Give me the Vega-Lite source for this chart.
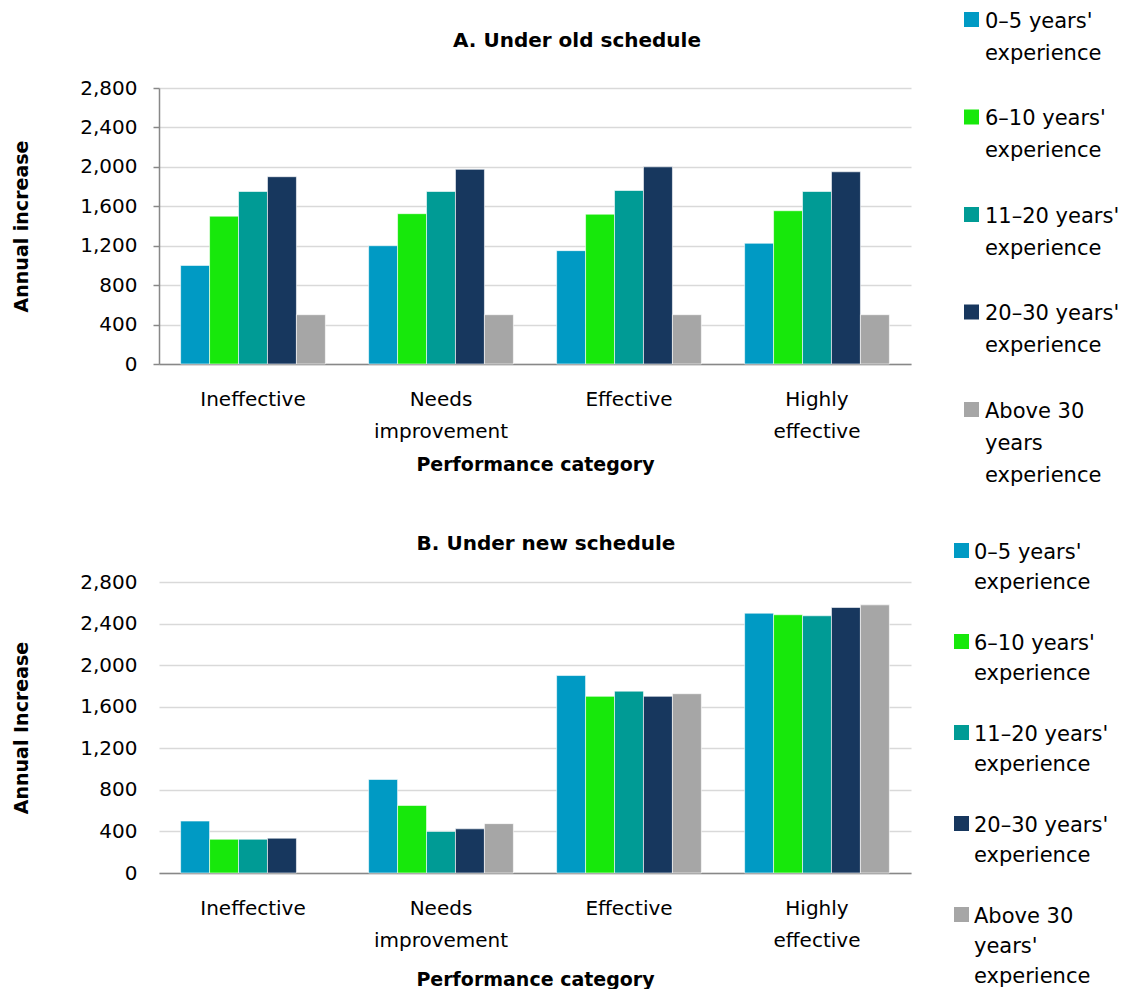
{
  "$schema": "https://vega.github.io/schema/vega-lite/v6.json",
  "background": "white",
  "padding": {"left": 12, "top": 0, "right": 0, "bottom": 0},
  "spacing": 45,
  "config": {
    "font": "DejaVu Sans",
    "view": {"stroke": null},
    "axis": {"labelColor": "#000000", "titleColor": "#000000", "labelFontSize": 20, "titleFontSize": 19, "titleFontWeight": "bold", "gridColor": "#d9d9d9", "gridWidth": 1.5},
    "legend": {"padding": 0},
    "title": {"fontSize": 20, "fontWeight": "bold", "color": "#000000", "anchor": "middle"}
  },
  "datasets": {
    "old": [
      {"cat": "Ineffective", "series": "0–5 years' experience", "value": 1000},
      {"cat": "Ineffective", "series": "6–10 years' experience", "value": 1500},
      {"cat": "Ineffective", "series": "11–20 years' experience", "value": 1750},
      {"cat": "Ineffective", "series": "20–30 years' experience", "value": 1900},
      {"cat": "Ineffective", "series": "Above 30 years experience", "value": 500},
      {"cat": "Needs improvement", "series": "0–5 years' experience", "value": 1200},
      {"cat": "Needs improvement", "series": "6–10 years' experience", "value": 1525},
      {"cat": "Needs improvement", "series": "11–20 years' experience", "value": 1750},
      {"cat": "Needs improvement", "series": "20–30 years' experience", "value": 1975},
      {"cat": "Needs improvement", "series": "Above 30 years experience", "value": 500},
      {"cat": "Effective", "series": "0–5 years' experience", "value": 1150},
      {"cat": "Effective", "series": "6–10 years' experience", "value": 1520},
      {"cat": "Effective", "series": "11–20 years' experience", "value": 1760},
      {"cat": "Effective", "series": "20–30 years' experience", "value": 2000},
      {"cat": "Effective", "series": "Above 30 years experience", "value": 500},
      {"cat": "Highly effective", "series": "0–5 years' experience", "value": 1225},
      {"cat": "Highly effective", "series": "6–10 years' experience", "value": 1555},
      {"cat": "Highly effective", "series": "11–20 years' experience", "value": 1750},
      {"cat": "Highly effective", "series": "20–30 years' experience", "value": 1950},
      {"cat": "Highly effective", "series": "Above 30 years experience", "value": 500}
    ],
    "new": [
      {"cat": "Ineffective", "series": "0–5 years' experience", "value": 500},
      {"cat": "Ineffective", "series": "6–10 years' experience", "value": 325},
      {"cat": "Ineffective", "series": "11–20 years' experience", "value": 325},
      {"cat": "Ineffective", "series": "20–30 years' experience", "value": 335},
      {"cat": "Needs improvement", "series": "0–5 years' experience", "value": 900},
      {"cat": "Needs improvement", "series": "6–10 years' experience", "value": 650},
      {"cat": "Needs improvement", "series": "11–20 years' experience", "value": 400},
      {"cat": "Needs improvement", "series": "20–30 years' experience", "value": 425},
      {"cat": "Needs improvement", "series": "Above 30 years' experience", "value": 475},
      {"cat": "Effective", "series": "0–5 years' experience", "value": 1900},
      {"cat": "Effective", "series": "6–10 years' experience", "value": 1700},
      {"cat": "Effective", "series": "11–20 years' experience", "value": 1750},
      {"cat": "Effective", "series": "20–30 years' experience", "value": 1700},
      {"cat": "Effective", "series": "Above 30 years' experience", "value": 1725},
      {"cat": "Highly effective", "series": "0–5 years' experience", "value": 2500},
      {"cat": "Highly effective", "series": "6–10 years' experience", "value": 2485},
      {"cat": "Highly effective", "series": "11–20 years' experience", "value": 2475},
      {"cat": "Highly effective", "series": "20–30 years' experience", "value": 2555},
      {"cat": "Highly effective", "series": "Above 30 years' experience", "value": 2580}
    ]
  },
  "resolve": {"scale": {"color": "independent", "xOffset": "independent"}},
  "vconcat": [
    {
      "width": 752,
      "height": 276,
      "title": {"text": "A. Under old schedule", "offset": -51, "dx": 42},
      "data": {"name": "old"},
      "mark": {"type": "bar", "stroke": "#ffffff", "strokeWidth": 0.6},
      "encoding": {
        "x": {"field": "cat", "type": "nominal", "sort": ["Ineffective", "Needs improvement", "Effective", "Highly effective"],
          "scale": {"paddingInner": 0.23, "paddingOuter": 0.115},
          "axis": {"title": "Performance category", "labelAngle": 0, "ticks": false, "domainColor": "#888888", "domainWidth": 1.5, "labelBaseline": "top", "labelPadding": 25, "labelLineHeight": 32, "titlePadding": 14, "labelExpr": "datum.label == 'Needs improvement' ? ['Needs','improvement'] : datum.label == 'Highly effective' ? ['Highly','effective'] : datum.label"}},
        "xOffset": {"field": "series", "type": "nominal", "sort": ["0–5 years' experience", "6–10 years' experience", "11–20 years' experience", "20–30 years' experience", "Above 30 years experience"], "scale": {"paddingInner": 0, "paddingOuter": 0}},
        "y": {"field": "value", "type": "quantitative", "scale": {"domain": [0, 2800], "nice": false},
          "axis": {"title": "Annual increase", "values": [0, 400, 800, 1200, 1600, 2000, 2400, 2800], "format": ",.0f", "domainColor": "#888888", "domainWidth": 1.5, "tickColor": "#888888", "tickSize": 6, "tickWidth": 1.5, "labelPadding": 16, "titlePadding": 48}},
        "color": {"field": "series", "type": "nominal",
          "scale": {"domain": ["0–5 years' experience", "6–10 years' experience", "11–20 years' experience", "20–30 years' experience", "Above 30 years experience"], "range": ["#009AC4", "#17E80B", "#009B95", "#17375E", "#A6A6A6"]},
          "legend": {"title": null, "orient": "none", "legendX": 802, "legendY": -88, "symbolType": "M-1,0.2H1V2.2H-1Z", "symbolSize": 225, "symbolStrokeWidth": 0, "labelFontSize": 21, "labelBaseline": "top", "labelOffset": 3, "labelLimit": 300, "rowPadding": 33.5, "labelColor": "#000000",
            "encoding": {"labels": {"lineHeight": {"value": 32}}},
            "labelExpr": "indexof(datum.label,'Above')==0 ? [slice(datum.label,0,8), slice(datum.label,9,indexof(datum.label,' experience')), 'experience'] : [slice(datum.label,0,indexof(datum.label,' experience')), 'experience']"}}
      }
    },
    {
      "width": 752,
      "height": 291,
      "title": {"text": "B. Under new schedule", "offset": -23, "dx": 11},
      "data": {"name": "new"},
      "mark": {"type": "bar", "stroke": "#ffffff", "strokeWidth": 0.6},
      "encoding": {
        "x": {"field": "cat", "type": "nominal", "sort": ["Ineffective", "Needs improvement", "Effective", "Highly effective"],
          "scale": {"paddingInner": 0.23, "paddingOuter": 0.115},
          "axis": {"title": "Performance category", "labelAngle": 0, "ticks": false, "domainColor": "#888888", "domainWidth": 1.5, "labelBaseline": "top", "labelPadding": 25, "labelLineHeight": 32, "titlePadding": 20, "labelExpr": "datum.label == 'Needs improvement' ? ['Needs','improvement'] : datum.label == 'Highly effective' ? ['Highly','effective'] : datum.label"}},
        "xOffset": {"field": "series", "type": "nominal", "sort": ["0–5 years' experience", "6–10 years' experience", "11–20 years' experience", "20–30 years' experience", "Above 30 years' experience"], "scale": {"paddingInner": 0, "paddingOuter": 0}},
        "y": {"field": "value", "type": "quantitative", "scale": {"domain": [0, 2800], "nice": false},
          "axis": {"title": "Annual Increase", "values": [0, 400, 800, 1200, 1600, 2000, 2400, 2800], "format": ",.0f", "domain": false, "ticks": false, "labelPadding": 22, "titlePadding": 48}},
        "color": {"field": "series", "type": "nominal",
          "scale": {"domain": ["0–5 years' experience", "6–10 years' experience", "11–20 years' experience", "20–30 years' experience", "Above 30 years' experience"], "range": ["#009AC4", "#17E80B", "#009B95", "#17375E", "#A6A6A6"]},
          "legend": {"title": null, "orient": "none", "legendX": 792, "legendY": -51, "symbolType": "M-1,0.2H1V2.2H-1Z", "symbolSize": 225, "symbolStrokeWidth": 0, "labelFontSize": 21, "labelBaseline": "top", "labelOffset": 2, "labelLimit": 300, "rowPadding": 29, "labelColor": "#000000",
            "encoding": {"labels": {"lineHeight": {"value": 30}}},
            "labelExpr": "indexof(datum.label,'Above')==0 ? [slice(datum.label,0,8), slice(datum.label,9,indexof(datum.label,' experience')), 'experience'] : [slice(datum.label,0,indexof(datum.label,' experience')), 'experience']"}}
      }
    }
  ]
}
